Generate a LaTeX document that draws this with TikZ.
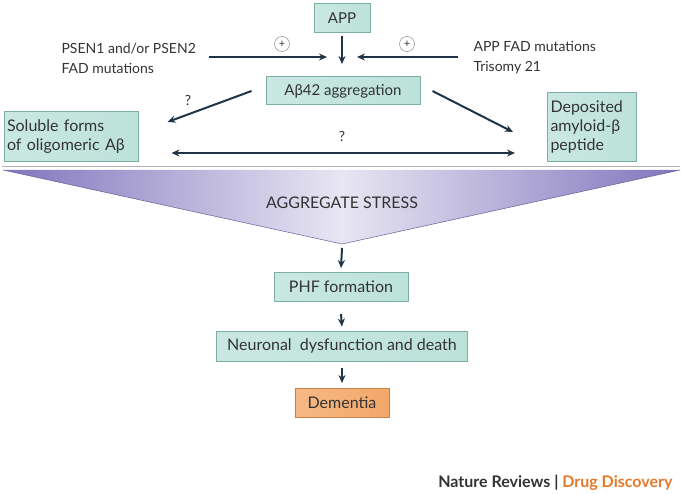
\documentclass[tikz,border=0pt]{standalone}
\usepackage{fontspec}
\setmainfont{Lato}
\usepackage{xcolor}
\usepackage{tikz}
\usetikzlibrary{
  arrows.meta,
  positioning,
  calc
}
\definecolor{boxfill}{HTML}{BCE2DA}
\definecolor{boxedge}{HTML}{7DAEA5}
\definecolor{demfill}{HTML}{F3A768}
\definecolor{demedge}{HTML}{C98248}
\definecolor{arrcolor}{HTML}{1F3547}
\definecolor{txtcolor}{HTML}{333333}
\definecolor{stressdark}{HTML}{8075BD}
\definecolor{stresslight}{HTML}{E8E6F3}
\definecolor{ndorange}{HTML}{E5782A}

\begin{document}
\begin{tikzpicture}[
  x=1pt, y=-1pt,
  every node/.style={text=txtcolor},
  txt/.style={font=\fontsize{14}{20}\selectfont, align=left},
  box/.style={draw=boxedge, line width=1pt, left color=boxfill!80!white,
              right color=boxfill, inner sep=3pt, minimum height=29pt,
              font=\fontsize{16}{19}\selectfont, align=center},
  lbox/.style={box, align=left, text width=#1},
  dembox/.style={box, draw=demedge, left color=demfill!80!white,
                 right color=demfill},
  plus/.style={circle, draw=gray!70, line width=0.7pt, minimum size=15pt,
               inner sep=0pt, font=\fontsize{11}{11}\selectfont},
  arrow/.style={-{Stealth[length=8pt, width=7pt]}, line width=2pt, arrcolor},
  darrow/.style={{Stealth[length=8pt, width=7pt]}-{Stealth[length=8pt, width=7pt]},
                 line width=2pt, arrcolor},
  qmark/.style={font=\fontsize{14}{14}\selectfont},
]
  \useasboundingbox (0,0) rectangle (682,494);

  % Top: APP and the two inputs
  \node[box, minimum width=56pt, font=\fontsize{15}{15}\selectfont] (app) at (342,18) {APP};
  \node[box, minimum width=154pt, minimum height=28pt, font=\fontsize{15}{15}\selectfont]
    (agg) at (343,91) {Aβ42 aggregation};
  \node[txt, anchor=west] (psen) at (58,58) {PSEN1 and/or PSEN2\\FAD mutations};
  \node[txt, anchor=west] (appfad) at (470,58) {APP FAD mutations\\Trisomy 21};
  \node[plus] (plusL) at (282,44) {+};
  \node[plus] (plusR) at (407,44) {+};
  \coordinate (meet) at (342,64);
  \coordinate (inL) at (327,57);
  \coordinate (inR) at (357,57);
  \draw[arrow] (app.south) ++(0,3) -- (meet);
  \draw[arrow] (psen.east |- inL) ++(10,0) -- (inL);
  \draw[arrow] (appfad.west |- inR) ++(-12,0) -- (inR);

  % Soluble and deposited forms
  \node[lbox=128pt, minimum height=50pt] (sol) at (71,137)
    {Soluble forms\\of oligomeric Aβ};
  \node[lbox=83pt, minimum height=69pt] (dep) at (592,127)
    {Deposited\\amyloid-β\\peptide};
  \draw[arrow] ([xshift=-14pt]agg.west) -- ([xshift=29pt,yshift=15pt]sol.east);
  \draw[arrow] ([xshift=12pt]agg.east) -- ([xshift=-34pt,yshift=-5pt]dep.west);
  \draw[darrow] ([xshift=33pt,yshift=-16pt]sol.east) -- ([xshift=-32pt,yshift=-26pt]dep.west);
  \node[qmark] (q1) at (188,100) {?};
  \node[qmark] (q2) at (342,136) {?};

  % Aggregate stress funnel
  \draw[gray!60, line width=1pt] (2,167) -- (680,167);
  \shade[left color=stressdark, right color=stressdark, middle color=stresslight]
    (3,170) -- (680,170) -- (342,244) -- cycle;
  \draw[stressdark!80!black, line width=0.5pt] (3,170) -- (342,244) -- (680,170);
  \coordinate (apex) at (342,244);
  \node[font=\fontsize{16}{16}\selectfont] (stress) at (342,203) {AGGREGATE STRESS};

  % Downstream cascade
  \node[box, minimum width=134pt] (phf) at (341,287) {PHF formation};
  \node[box, minimum width=251pt, minimum height=30pt] (neuro) at (342,346)
    {Neuronal\ \ dysfunction and death};
  \node[dembox, minimum width=94pt] (dem) at (342,403) {Dementia};
  \draw[arrow] ([yshift=-4pt]apex) -- ([yshift=4pt]phf.north);
  \draw[arrow] ([yshift=-12pt]phf.south) -- ([yshift=4pt]neuro.north);
  \draw[arrow] ([yshift=-6pt]neuro.south) -- ([yshift=5pt]dem.north);

  % Footer
  \node[anchor=east, font=\fontsize{16}{16}\selectfont\bfseries] (credit) at (676,483)
    {Nature Reviews | \textcolor{ndorange}{Drug Discovery}};
\end{tikzpicture}
\end{document}
